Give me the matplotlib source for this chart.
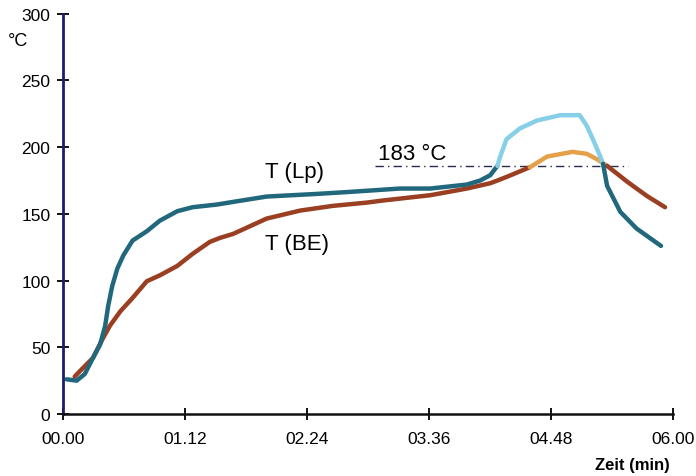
import matplotlib.pyplot as plt

plt.rcParams['font.family'] = ['Liberation Sans', 'DejaVu Sans']

# time in minutes, temperature in degC
lp_t = [0.03, 0.13, 0.21, 0.29, 0.36, 0.41, 0.44, 0.48, 0.53, 0.59, 0.68, 0.82,
        0.95, 1.12, 1.27, 1.51, 1.67, 2.0, 2.5, 2.82, 3.31, 3.61, 3.97, 4.1, 4.2, 4.27]
lp_v = [26, 25, 30, 42, 52, 66, 81, 96, 109, 119, 130, 137,
        145, 152, 155, 157, 159, 163, 165, 166.5, 169, 169, 172, 175, 179, 186]
lp_hot_t = [4.27, 4.30, 4.36, 4.49, 4.66, 4.89, 5.08, 5.15, 5.21, 5.28, 5.31]
lp_hot_v = [186, 193.5, 206, 214, 220, 224, 224, 216, 206, 193.5, 187.5]
lp_cool_t = [5.31, 5.35, 5.48, 5.64, 5.88]
lp_cool_v = [187.5, 171, 151.5, 139, 126]

be_t = [0.11, 0.16, 0.29, 0.39, 0.46, 0.56, 0.68, 0.82, 0.95, 1.12, 1.27, 1.44,
        1.54, 1.67, 2.0, 2.33, 2.65, 2.99, 3.14, 3.61, 3.97, 4.2, 4.27, 4.37, 4.59]
be_v = [28, 32, 42, 57, 66.5, 77, 87, 99.5, 104, 111, 120, 129,
        132, 135, 146.5, 152.5, 156, 158.5, 160, 164, 169, 173, 175, 178, 185]
be_hot_t = [4.59, 4.76, 5.01, 5.15, 5.25, 5.35]
be_hot_v = [185, 193, 196.5, 195, 191, 186]
be_cool_t = [5.35, 5.55, 5.74, 5.92]
be_cool_v = [186, 174, 163.5, 155]

ref_t = [3.07, 5.56]
ref_v = [186, 186]

xticks = [0, 1.2, 2.4, 3.6, 4.8, 6.0]
xlabels = ['00.00', '01.12', '02.24', '03.36', '04.48', '06.00']
yticks = [0, 50, 100, 150, 200, 250, 300]

fig = plt.figure(figsize=(6.96, 4.77), dpi=100)
ax = fig.add_axes([0.0912, 0.13, 0.876, 0.839])

teal = '#22687c'
cyan = '#86cfe6'
brown = '#9a3f22'
orange = '#e5a04a'
lw = 3.2

ax.plot(ref_t, ref_v, color='#2a2a50', lw=1.0, ls=(0, (6, 3, 1, 3)))

ax.plot(be_t, be_v, color=brown, lw=lw, solid_capstyle='round')
ax.plot(be_hot_t, be_hot_v, color=orange, lw=lw, solid_capstyle='round')
ax.plot(be_cool_t, be_cool_v, color=brown, lw=lw, solid_capstyle='round')

ax.plot(lp_t, lp_v, color=teal, lw=lw, solid_capstyle='round')
ax.plot(lp_hot_t, lp_hot_v, color=cyan, lw=lw, solid_capstyle='round')
ax.plot(lp_cool_t, lp_cool_v, color=teal, lw=lw, solid_capstyle='round')

ax.text(3.1, 195, '183 °C', fontsize=16, va='center', ha='left')
ax.text(1.98, 182, 'T (Lp)', fontsize=16, va='center', ha='left')
ax.text(1.98, 127.5, 'T (BE)', fontsize=16, va='center', ha='left')

ax.set_xlim(0, 6.0)
ax.set_ylim(0, 300)
ax.set_xticks(xticks)
ax.set_xticklabels(xlabels)
ax.set_yticks(yticks)
ax.tick_params(direction='inout', length=9, width=1.3, labelsize=12.5)
ax.tick_params(axis='y', pad=5)
ax.tick_params(axis='x', pad=8)

for s in ['top', 'right']:
    ax.spines[s].set_visible(False)
ax.spines['left'].set_color('#1c1c70')
ax.spines['left'].set_linewidth(2)
ax.spines['bottom'].set_color('#111111')
ax.spines['bottom'].set_linewidth(1.8)

fig.text(0.012, 0.912, '°C', fontsize=13, ha='left', va='center')
fig.text(0.962, 0.025, 'Zeit (min)', fontsize=12, fontweight='bold', ha='right', va='center')

fig.savefig('out.png', dpi=100)
